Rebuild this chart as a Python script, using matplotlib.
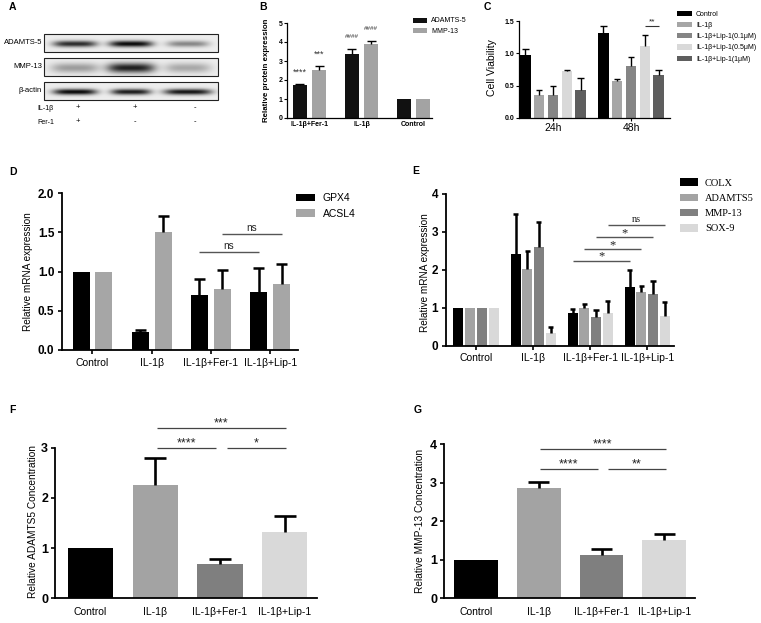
import numpy as np
import matplotlib
matplotlib.use('Agg')
import matplotlib.pyplot as plt
from matplotlib.patches import Patch, Rectangle

plt.rcParams['font.family'] = ['Liberation Sans', 'DejaVu Sans']
SERIF = ['Liberation Serif', 'DejaVu Serif']

# ---------------- data ----------------
# Panel A (western blot)
blot_rows = ['ADAMTS-5', 'MMP-13', 'β-actin']
blot_intensity = [[0.85, 1.0, 0.45], [0.35, 0.9, 0.3], [1.0, 0.92, 0.95]]
il1b_signs = ['+', '+', '-']
fer1_signs = ['+', '-', '-']

# Panel B
b_groups = ['IL-1β+Fer-1', 'IL-1β', 'Control']
b_adamts5 = [1.75, 3.35, 1.0]
b_adamts5_err = [0.05, 0.30, 0.0]
b_mmp13 = [2.55, 3.88, 1.0]
b_mmp13_err = [0.20, 0.18, 0.0]
b_adamts5_sig = ['****', '####', '']
b_mmp13_sig = ['***', '####', '']

# Panel C
c_times = ['24h', '48h']
c_groups = ['Control', 'IL-1β', 'IL-1β+Lip-1(0.1μM)', 'IL-1β+Lip-1(0.5μM)', 'IL-1β+Lip-1(1μM)']
c_vals = [[0.97, 1.31], [0.35, 0.57], [0.36, 0.80], [0.72, 1.11], [0.44, 0.66]]
c_errs = [[0.09, 0.12], [0.09, 0.03], [0.13, 0.14], [0.03, 0.17], [0.18, 0.09]]
c_sig = [(1, 3, 4, 1.42, '**')]  # (time index, bar i, bar j, y, text)

# Panel D
d_groups = ['Control', 'IL-1β', 'IL-1β+Fer-1', 'IL-1β+Lip-1']
d_gpx4 = [1.0, 0.23, 0.70, 0.74]
d_gpx4_err = [0.0, 0.02, 0.20, 0.30]
d_acsl4 = [1.0, 1.50, 0.78, 0.84]
d_acsl4_err = [0.0, 0.21, 0.24, 0.26]
d_sig = [(0, 2, 3, 1.25, 'ns'), (1, 2, 3, 1.48, 'ns')]  # (series, group i, group j, y, text)

# Panel E
e_groups = ['Control', 'IL-1β', 'IL-1β+Fer-1', 'IL-1β+Lip-1']
e_series = ['COLX', 'ADAMTS5', 'MMP-13', 'SOX-9']
e_vals = [[1.0, 2.42, 0.87, 1.55],
          [1.0, 2.02, 1.00, 1.42],
          [1.0, 2.59, 0.75, 1.36],
          [1.0, 0.32, 0.86, 0.79]]
e_errs = [[0.0, 1.05, 0.10, 0.45],
          [0.0, 0.48, 0.10, 0.16],
          [0.0, 0.67, 0.18, 0.34],
          [0.0, 0.17, 0.31, 0.36]]
e_sig = [(0, 2, 3, 2.24, '*'), (1, 2, 3, 2.55, '*'), (2, 2, 3, 2.87, '*'), (3, 2, 3, 3.19, 'ns')]

# Panel F
f_groups = ['Control', 'IL-1β', 'IL-1β+Fer-1', 'IL-1β+Lip-1']
f_vals = [1.0, 2.26, 0.69, 1.33]
f_errs = [0.0, 0.53, 0.10, 0.31]
f_sig = [(1, 3, 3.39, '***'), (1, 2, 3.0, '****'), (2, 3, 3.0, '*')]

# Panel G
g_groups = ['Control', 'IL-1β', 'IL-1β+Fer-1', 'IL-1β+Lip-1']
g_vals = [1.0, 2.86, 1.12, 1.51]
g_errs = [0.0, 0.17, 0.15, 0.16]
g_sig = [(1, 3, 3.87, '****'), (1, 2, 3.35, '****'), (2, 3, 3.35, '**')]

# ---------------- layout helpers ----------------
W, H = 761, 623
fig = plt.figure(figsize=(W / 100, H / 100), dpi=100)


def px_axes(x0, y0, x1, y1):
    return fig.add_axes([x0 / W, 1 - y1 / H, (x1 - x0) / W, (y1 - y0) / H])


def style_axes(ax, lw):
    for s in ['top', 'right']:
        ax.spines[s].set_visible(False)
    for s in ['left', 'bottom']:
        ax.spines[s].set_linewidth(lw)


def up_err(ax, x, y, e, capw, lw):
    for xi, yi, ei in zip(x, y, e):
        if ei > 0:
            ax.vlines(xi, yi, yi + ei, color='black', lw=lw, zorder=3)
            ax.hlines(yi + ei, xi - capw / 2, xi + capw / 2, color='black', lw=lw, zorder=3)


def sig_line(ax, x0, x1, y, text, fs, family=None, color='#555555', lw=0.9, dy=0.5):
    ax.plot([x0, x1], [y, y], color=color, lw=lw, clip_on=False, solid_capstyle='butt')
    kw = {}
    if family:
        kw['family'] = family
    ax.annotate(text, xy=((x0 + x1) / 2, y), xytext=(0, dy), textcoords='offset points',
                ha='center', va='bottom', fontsize=fs, annotation_clip=False, color='#222222', **kw)


def add_legend(ax, labels, colors, x_px, ytop_px, fs, hl, hh, sp, tp, family=None):
    handles = [Patch(facecolor=c, edgecolor='none') for c in colors]
    prop = {'size': fs}
    if family:
        prop['family'] = family
    ax.legend(handles, labels, loc='upper left', bbox_to_anchor=(x_px / W, 1 - ytop_px / H),
              bbox_transform=fig.transFigure, frameon=False, borderpad=0, borderaxespad=0,
              handlelength=hl, handleheight=hh, labelspacing=sp, handletextpad=tp, prop=prop)


def panel_letter(x, y, s):
    fig.text(x / W, 1 - y / H, s, fontsize=7.5, fontweight='bold', ha='left', va='center')


# ---------------- Panel A ----------------
axA = px_axes(0, 0, 250, 170)
box_x0, box_x1, box_h = 44, 218, 18
box_tops = [34, 58, 82]
lane_x = [75, 131, 188]
band_w = [[44, 44, 42], [48, 48, 46], [44, 40, 48]]
band_sy = [3.2, 5.0, 3.0]
sign_x = [78, 135, 195]
xs = np.linspace(box_x0, box_x1, 350)
for r, name in enumerate(blot_rows):
    y0 = box_tops[r]
    y1 = y0 + box_h
    ys = np.linspace(y0, y1, 40)
    X, Y = np.meshgrid(xs, ys)
    yc = y0 + box_h * 0.55
    dark = np.zeros_like(X)
    for l, inten in enumerate(blot_intensity[r]):
        hw = band_w[r][l] / 2
        dark += inten * np.exp(-np.abs((X - lane_x[l]) / hw) ** 4) * np.exp(-((Y - yc) / band_sy[r]) ** 2)
    img = 0.93 - 0.9 * np.clip(dark, 0, 1)
    axA.imshow(img, cmap='gray', vmin=0, vmax=1, extent=(box_x0, box_x1, y1, y0),
               aspect='auto', interpolation='bilinear')
    axA.add_patch(Rectangle((box_x0, y0), box_x1 - box_x0, box_h, fill=False, ec='#222222', lw=0.8))
    axA.text(42, (y0 + y1) / 2, name, ha='right', va='center', fontsize=5.5)
axA.text(37, 108, 'IL-1β', ha='left', va='center', fontsize=5)
axA.text(37, 122, 'Fer-1', ha='left', va='center', fontsize=5)
for sx, s1, s2 in zip(sign_x, il1b_signs, fer1_signs):
    axA.text(sx, 108, s1, ha='center', va='center', fontsize=5.5)
    axA.text(sx, 122, s2, ha='center', va='center', fontsize=5.5)
axA.set_xlim(0, 250)
axA.set_ylim(170, 0)
axA.axis('off')

# ---------------- Panel B ----------------
axB = px_axes(287, 23, 432, 118)
xb = np.arange(len(b_groups))
bw, off = 0.27, 0.185
axB.bar(xb - off, b_adamts5, bw, color='#111111', label='ADAMTS-5', zorder=2)
axB.bar(xb + off, b_mmp13, bw, color='#a3a3a3', label='MMP-13', zorder=2)
up_err(axB, xb - off, b_adamts5, b_adamts5_err, 0.17, 1.0)
up_err(axB, xb + off, b_mmp13, b_mmp13_err, 0.17, 1.0)
for xs_, vals_, errs_, sigs_ in [(xb - off, b_adamts5, b_adamts5_err, b_adamts5_sig),
                                 (xb + off, b_mmp13, b_mmp13_err, b_mmp13_sig)]:
    for xi, v, e, s in zip(xs_, vals_, errs_, sigs_):
        if s:
            fs = 6.5 if s.startswith('*') else 4.5
            dy = 8 if s.startswith('*') else 9
            axB.annotate(s, xy=(xi, v + e), xytext=(0, dy), textcoords='offset points', ha='center',
                         va='center', fontsize=fs, color='#333333')
axB.set_xlim(-0.433, 2.356)
axB.set_ylim(0, 5)
axB.set_yticks(range(0, 6))
axB.set_xticks(xb)
axB.set_xticklabels(b_groups, fontsize=5, fontweight='bold')
axB.tick_params(axis='y', labelsize=5, length=2, width=0.8, pad=1)
axB.tick_params(axis='x', length=0, pad=2)
for t in axB.get_yticklabels():
    t.set_fontweight('bold')
axB.set_ylabel('Relative protein expression', fontsize=5.7, fontweight='bold')
axB.yaxis.set_label_coords(-0.117, 0.5)
style_axes(axB, 0.9)
add_legend(axB, ['ADAMTS-5', 'MMP-13'], ['#111111', '#a3a3a3'], 413, 17.5, 5, 2.0, 0.75, 0.45, 0.6)

# ---------------- Panel C ----------------
axC = px_axes(519, 21, 670, 118)
xc = np.arange(len(c_times))
c_colors = ['#000000', '#a6a6a6', '#858585', '#d9d9d9', '#5e5e5e']
cbw, cstep = 0.135, 0.177
for i, (lab, col) in enumerate(zip(c_groups, c_colors)):
    xi = xc + (i - 2) * cstep
    axC.bar(xi, c_vals[i], cbw, color=col, label=lab, zorder=2)
    up_err(axC, xi, c_vals[i], c_errs[i], 0.08, 1.0)
for t, i, j, y, s in c_sig:
    sig_line(axC, xc[t] + (i - 2) * cstep, xc[t] + (j - 2) * cstep, y, s, 6, color='#333333', lw=0.8)
axC.set_xlim(-0.436, 1.5)
axC.set_ylim(0, 1.5)
axC.set_yticks([0, 0.5, 1.0, 1.5])
axC.set_yticklabels(['0.0', '0.5', '1.0', '1.5'], fontsize=5, fontweight='bold')
axC.set_xticks(xc)
axC.set_xticklabels(c_times, fontsize=7.5)
axC.tick_params(axis='y', length=2, width=0.8, pad=1.5)
axC.tick_params(axis='x', length=2, width=0.8, pad=1.5)
axC.set_ylabel('Cell Viability', fontsize=7.5)
axC.yaxis.set_label_coords(-0.146, 0.52)
style_axes(axC, 0.9)
add_legend(axC, c_groups, c_colors, 677, 10.5, 5, 2.2, 0.75, 0.62, 0.55)

# ---------------- Panel D ----------------
axD = px_axes(62, 193, 298, 350)
xd = np.arange(len(d_groups))
dbw, doff = 0.287, 0.194
axD.bar(xd - doff, d_gpx4, dbw, color='#000000', label='GPX4', zorder=2)
axD.bar(xd + doff, d_acsl4, dbw, color='#a6a6a6', label='ACSL4', zorder=2)
up_err(axD, xd - doff, d_gpx4, d_gpx4_err, 0.18, 1.8)
up_err(axD, xd + doff, d_acsl4, d_acsl4_err, 0.18, 1.8)
for sr, i, j, y, s in d_sig:
    o = -doff if sr == 0 else doff
    sig_line(axD, xd[i] + o, xd[j] + o, y, s, 7.2, color='#555555', lw=1.0)
axD.set_xlim(-0.515, 3.47)
axD.set_ylim(0, 2)
axD.set_yticks([0, 0.5, 1.0, 1.5, 2.0])
axD.set_yticklabels(['0.0', '0.5', '1.0', '1.5', '2.0'], fontsize=8.5, fontweight='bold')
axD.set_xticks(xd)
axD.set_xticklabels(d_groups, fontsize=7.5)
axD.tick_params(axis='both', length=3, width=1.2, pad=2.5)
axD.set_ylabel('Relative mRNA expression', fontsize=7.2)
axD.yaxis.set_label_coords(-0.122, 0.5)
style_axes(axD, 1.3)
add_legend(axD, ['GPX4', 'ACSL4'], ['#000000', '#a6a6a6'], 296, 193, 7.5, 1.8, 0.75, 0.55, 0.75)

# ---------------- Panel E ----------------
axE = px_axes(446, 194, 674, 345.5)
xe = np.arange(len(e_groups))
e_colors = ['#000000', '#a3a3a3', '#808080', '#d9d9d9']
ebw, estep = 0.175, 0.205
for k, (lab, col) in enumerate(zip(e_series, e_colors)):
    xi = xe + (k - 1.5) * estep
    axE.bar(xi, e_vals[k], ebw, color=col, label=lab, zorder=2)
    up_err(axE, xi, e_vals[k], e_errs[k], 0.09, 1.8)
for k, i, j, y, s in e_sig:
    o = (k - 1.5) * estep
    fs = 9 if s == '*' else 7.5
    dy = -1.5 if s == '*' else 0.5
    sig_line(axE, xe[i] + o, xe[j] + o, y, s, fs, family=SERIF, color='#555555', lw=1.0, dy=dy)
axE.set_xlim(-0.526, 3.47)
axE.set_ylim(0, 4)
axE.set_yticks(range(0, 5))
axE.set_yticklabels([str(v) for v in range(0, 5)], fontsize=8.5, fontweight='bold')
axE.set_xticks(xe)
axE.set_xticklabels(e_groups, fontsize=7.5)
axE.tick_params(axis='both', length=3, width=1.2, pad=2.5)
axE.set_ylabel('Relative mRNA expression', fontsize=7.2)
axE.yaxis.set_label_coords(-0.07, 0.48)
style_axes(axE, 1.3)
add_legend(axE, e_series, e_colors, 680, 178.5, 7.5, 1.75, 0.75, 0.55, 0.65, family=SERIF)

# ---------------- Panels F and G ----------------
fg_colors = ['#000000', '#a3a3a3', '#7f7f7f', '#d9d9d9']


def conc_panel(box, groups, vals, errs, sigs, ylim, ylabel, lab_x, xlim, lab_y):
    ax = px_axes(*box)
    x = np.arange(len(groups))
    ax.bar(x, vals, 0.70, color=fg_colors, zorder=2)
    up_err(ax, x, vals, errs, 0.34, 1.9)
    for n, (i, j, y, s) in enumerate(sigs):
        if n == 0:
            a, b = x[i] + 0.02, x[j] + 0.02
        elif n == 1:
            a, b = x[i] + 0.02, x[j] - 0.06
        else:
            a, b = x[i] + 0.11, x[j] + 0.02
        sig_line(ax, a, b, y, s, 9, color='#444444', lw=0.9, dy=-1.0)
    ax.set_xlim(*xlim)
    ax.set_ylim(0, ylim)
    ax.set_yticks(range(0, ylim + 1))
    ax.set_yticklabels([str(v) for v in range(0, ylim + 1)], fontsize=9, fontweight='bold')
    ax.set_xticks(x)
    ax.set_xticklabels(groups, fontsize=7.5)
    ax.tick_params(axis='y', length=3, width=1.2, pad=2)
    ax.tick_params(axis='x', length=0, pad=6)
    ax.set_ylabel(ylabel, fontsize=7.3)
    ax.yaxis.set_label_coords(lab_x, lab_y)
    style_axes(ax, 1.3)
    return ax


conc_panel((55, 447.7, 317, 598.3), f_groups, f_vals, f_errs, f_sig, 3,
           'Relative ADAMTS5 Concentration', -0.064, (-0.549, 3.5), 0.51)
conc_panel((444, 444.3, 695, 598.3), g_groups, g_vals, g_errs, g_sig, 4,
           'Relative MMP-13 Concentration', -0.076, (-0.51, 3.49), 0.50)

# ---------------- panel letters ----------------
panel_letter(9, 7, 'A')
panel_letter(259, 7, 'B')
panel_letter(484, 7, 'C')
panel_letter(9, 172, 'D')
panel_letter(412, 171, 'E')
panel_letter(9, 410, 'F')
panel_letter(414, 410, 'G')

fig.savefig('out.png', dpi=100)
